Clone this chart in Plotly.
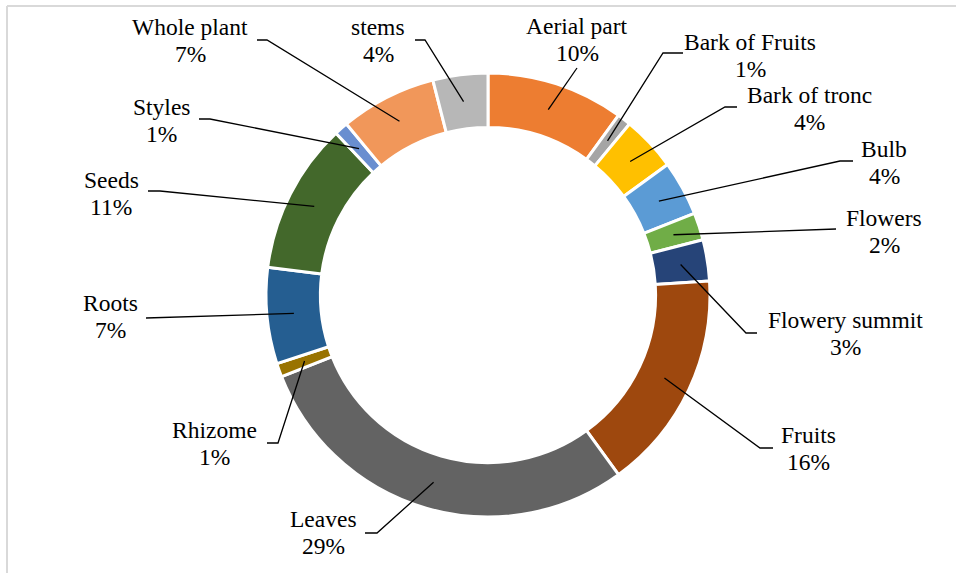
import math
import plotly.graph_objects as go

# ---- data ----
labels = ["Aerial part", "Bark of Fruits", "Bark of tronc", "Bulb", "Flowers",
          "Flowery summit", "Fruits", "Leaves", "Rhizome", "Roots", "Seeds",
          "Styles", "Whole plant", "stems"]
values = [10, 1, 4, 4, 2, 3, 16, 29, 1, 7, 11, 1, 7, 4]
colors = ["#ED7D31", "#A5A5A5", "#FFC000", "#5B9BD5", "#70AD47", "#264478",
          "#9E480E", "#636363", "#997300", "#255E91", "#43682B", "#698ED0",
          "#F1975A", "#B7B7B7"]

# ---- layout (pixel positions of label text and leader-line knees/ends) ----
W, H = 956, 573
CX, CY = 488, 295
R_OUT = 222
HOLE = 0.755
R_MID = 195
FONT = "Liberation Serif"
FSIZE = 23.5
LINE_GAP = 27

label_pos = [(577, 26), (750, 42), (809, 95), (884, 149), (884, 218),
             (845, 320), (808, 435), (323, 519), (214, 430), (110, 303),
             (111, 180), (161, 107), (190, 27), (378, 27)]
leader_knee = [(577, 68), (663, 53), (725, 107), (840, 161), (836, 229),
               (746, 333), (760, 448), (377, 533), (278, 443), (146, 318),
               (160, 191), (210, 119), (267, 40), (425, 40)]
leader_end = [(577, 68), (683, 53), (737, 107), (853, 161), (836, 229),
              (757, 333), (773, 448), (365, 533), (267, 443), (146, 318),
              (148, 191), (199, 119), (257, 40), (415, 40)]


def px(x):
    return x / W


def py(y):
    return 1 - y / H


fig = go.Figure()
fig.add_trace(go.Pie(
    labels=labels, values=values, hole=HOLE, sort=False, direction="clockwise",
    rotation=0, textinfo="none", hoverinfo="label+percent",
    marker=dict(colors=colors, line=dict(color="white", width=3)),
    domain=dict(x=[(CX - R_OUT) / W, (CX + R_OUT) / W],
                y=[(H - CY - R_OUT) / H, (H - CY + R_OUT) / H]),
    showlegend=False,
))

total = sum(values)
shapes = []
annotations = []
cum = 0
for i, (lab, v) in enumerate(zip(labels, values)):
    mid = (cum + v / 2) / total * 2 * math.pi
    cum += v
    ax = CX + R_MID * math.sin(mid)
    ay = CY - R_MID * math.cos(mid)
    kx, ky = leader_knee[i]
    ex, ey = leader_end[i]
    shapes.append(dict(
        type="path", xref="paper", yref="paper",
        path=f"M {px(ax)},{py(ay)} L {px(kx)},{py(ky)} L {px(ex)},{py(ey)}",
        line=dict(color="black", width=1.3),
    ))
    tx, ty = label_pos[i]
    pct = f"{round(v / total * 100)}%"
    for txt, yy in ((lab, ty), (pct, ty + LINE_GAP)):
        annotations.append(dict(
            text=txt, x=px(tx), y=py(yy), xref="paper", yref="paper",
            xanchor="center", yanchor="middle", showarrow=False,
            font=dict(family=FONT, size=FSIZE, color="black"),
        ))

# chart-area border (top and left edges visible)
shapes.append(dict(type="line", xref="paper", yref="paper",
                   x0=px(7), y0=py(6), x1=px(W + 5), y1=py(6),
                   line=dict(color="#D9D9D9", width=2)))
shapes.append(dict(type="line", xref="paper", yref="paper",
                   x0=px(7), y0=py(6), x1=px(7), y1=py(H + 5),
                   line=dict(color="#D9D9D9", width=2)))

fig.update_layout(
    width=W, height=H, margin=dict(l=0, r=0, t=0, b=0),
    paper_bgcolor="white", plot_bgcolor="white",
    font=dict(family=FONT),
    shapes=shapes, annotations=annotations,
)

fig.write_html("out.html")
